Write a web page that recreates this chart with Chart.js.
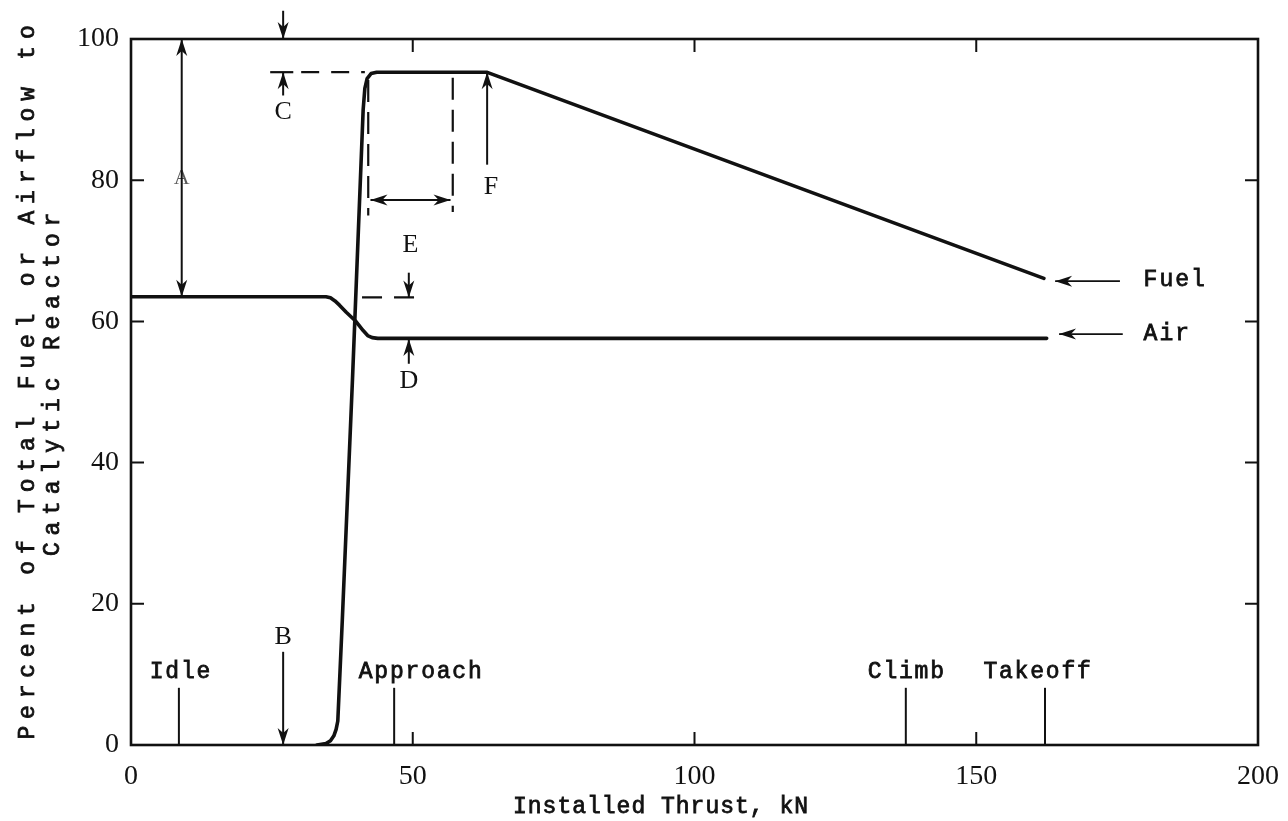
<!DOCTYPE html>
<html>
<head>
<meta charset="utf-8">
<script src="https://cdn.jsdelivr.net/npm/chart.js@4"></script>
<style>
  html, body { margin: 0; padding: 0; background: #fff; }
  #wrap { width: 1288px; height: 821px; }
</style>
</head>
<body>
<div id="wrap"><canvas id="c" width="1288" height="821"></canvas></div>
<script>
// Fuel split to the catalytic reactor vs. installed thrust
const fuelThrust  = [33.0, 34.6, 35.4, 36.0, 36.4, 36.7, 37.5, 39.3, 41.2, 41.5, 41.9, 42.6, 43.6, 63.1, 162.0];
const fuelPercent = [0.0,  0.2,  0.6,  1.3,  2.2,  3.4,  17.7, 51.7, 90.0, 93.0, 94.4, 95.1, 95.3, 95.3, 66.1];

// Air split to the catalytic reactor vs. installed thrust
const airThrust  = [0.0,  34.6, 35.4, 36.2, 37.0, 38.2, 39.8, 41.2, 42.0, 42.8, 43.8, 162.5];
const airPercent = [63.5, 63.5, 63.35, 62.9, 62.3, 61.3, 60.1, 58.7, 58.0, 57.7, 57.6, 57.6];

// Engine operating points
const modeNames  = ['Idle', 'Approach', 'Climb', 'Takeoff'];
const modeThrust = [8.5, 46.7, 137.5, 162.2];

// Axis ranges and tick steps
const xTicks = [0, 50, 100, 150, 200];
const yTicks = [0, 20, 40, 60, 80, 100];

const INK = '#111';
const MONO = '"Liberation Mono", "DejaVu Sans Mono", monospace';
const SERIF = '"Liberation Serif", "DejaVu Serif", serif';

function pts(xs, ys) { return xs.map((x, i) => ({ x, y: ys[i] })); }

function head(ctx, x, y, ang, len, wid) {
  ctx.save();
  ctx.translate(x, y);
  ctx.rotate(ang);
  ctx.beginPath();
  ctx.moveTo(0, 0);
  ctx.lineTo(-len, -wid / 2);
  ctx.lineTo(-len * 0.7, 0);
  ctx.lineTo(-len, wid / 2);
  ctx.closePath();
  ctx.fill();
  ctx.restore();
}

// arrow from (x1,y1) to (x2,y2) in pixels; heads: 'end' | 'both'
function arrow(ctx, x1, y1, x2, y2, heads, lw) {
  ctx.lineWidth = lw || 2;
  ctx.beginPath();
  ctx.moveTo(x1, y1);
  ctx.lineTo(x2, y2);
  ctx.stroke();
  const a = Math.atan2(y2 - y1, x2 - x1);
  head(ctx, x2, y2, a, 17, 11);
  if (heads === 'both') head(ctx, x1, y1, a + Math.PI, 17, 11);
}

// typewriter-like text: fill plus a thin outline to thicken the strokes
function text(ctx, s, x, y, font, align, spacing, weight) {
  ctx.font = font;
  ctx.textAlign = align || 'center';
  ctx.textBaseline = 'middle';
  if ('letterSpacing' in ctx) ctx.letterSpacing = (spacing || 0) + 'px';
  ctx.fillText(s, x, y);
  if (weight) {
    ctx.lineWidth = weight;
    ctx.strokeText(s, x, y);
  }
  if ('letterSpacing' in ctx) ctx.letterSpacing = '0px';
}

const decor = {
  id: 'decor',
  afterDatasetsDraw(chart) {
    const ctx = chart.ctx;
    const xs = chart.scales.x, ys = chart.scales.y;
    const X = v => xs.getPixelForValue(v);
    const Y = v => ys.getPixelForValue(v);
    const a = chart.chartArea;
    ctx.save();
    ctx.strokeStyle = INK;
    ctx.fillStyle = INK;
    ctx.lineCap = 'butt';

    // frame
    ctx.lineWidth = 2.6;
    ctx.strokeRect(a.left, a.top, a.right - a.left, a.bottom - a.top);

    // inward ticks on all four sides
    ctx.lineWidth = 2;
    const tl = 13;
    xTicks.slice(1, -1).forEach(v => {
      ctx.beginPath();
      ctx.moveTo(X(v), a.bottom); ctx.lineTo(X(v), a.bottom - tl);
      ctx.moveTo(X(v), a.top); ctx.lineTo(X(v), a.top + tl);
      ctx.stroke();
    });
    yTicks.slice(1, -1).forEach(v => {
      ctx.beginPath();
      ctx.moveTo(a.left, Y(v)); ctx.lineTo(a.left + tl, Y(v));
      ctx.moveTo(a.right, Y(v)); ctx.lineTo(a.right - tl, Y(v));
      ctx.stroke();
    });

    const word = '23px ' + MONO;
    const ww = 0.8;

    // operating point markers
    const labelShift = [2, 27, 1, -7];
    modeThrust.forEach((t, i) => {
      ctx.lineWidth = 2;
      ctx.beginPath();
      ctx.moveTo(X(t), a.bottom); ctx.lineTo(X(t), Y(8.1));
      ctx.stroke();
      text(ctx, modeNames[i], X(t) + labelShift[i], Y(10.4), word, 'center', 1.8, ww);
    });

    const letter = '26px ' + SERIF;

    // B: light-off thrust
    arrow(ctx, X(27), Y(13.2), X(27), Y(0), 'end', 2);
    text(ctx, 'B', X(27), Y(15.3), letter);

    // arrow onto the 100 % line at the same thrust
    arrow(ctx, X(27), Y(104.0), X(27), Y(100), 'end', 2);

    // A: air split span
    arrow(ctx, X(9.0), Y(63.5), X(9.0), Y(100), 'both', 2);
    ctx.globalAlpha = 0.7;
    text(ctx, 'A', X(9.0), Y(80.3), '22px ' + SERIF);
    ctx.globalAlpha = 1;

    // C: fuel plateau level
    ctx.lineWidth = 2.2;
    ctx.beginPath();
    ctx.moveTo(X(24.7), Y(95.3)); ctx.lineTo(X(28.8), Y(95.3));
    ctx.stroke();
    ctx.setLineDash([18, 12]);
    ctx.beginPath();
    ctx.moveTo(X(30.2), Y(95.3)); ctx.lineTo(X(41.5), Y(95.3));
    ctx.stroke();
    ctx.setLineDash([]);
    arrow(ctx, X(27), Y(92.0), X(27), Y(95.3), 'end', 2);
    text(ctx, 'C', X(27), Y(89.6), letter);

    // E: plateau width
    ctx.lineWidth = 2.2;
    ctx.setLineDash([22, 10]);
    ctx.beginPath();
    ctx.moveTo(X(42.1), Y(94.2)); ctx.lineTo(X(42.1), Y(75.0));
    ctx.moveTo(X(57.1), Y(94.5)); ctx.lineTo(X(57.1), Y(75.5));
    ctx.stroke();
    ctx.setLineDash([]);
    arrow(ctx, X(42.5), Y(77.2), X(56.7), Y(77.2), 'both', 2);
    text(ctx, 'E', X(49.6), Y(70.8), letter);

    // F: end of plateau
    arrow(ctx, X(63.2), Y(82.2), X(63.2), Y(95.3), 'end', 2);
    text(ctx, 'F', X(63.9), Y(79.0), letter);

    // D: air split drop
    ctx.lineWidth = 2.2;
    ctx.setLineDash([20, 12]);
    ctx.beginPath();
    ctx.moveTo(X(41.0), Y(63.4)); ctx.lineTo(X(50.9), Y(63.4));
    ctx.stroke();
    ctx.setLineDash([]);
    arrow(ctx, X(49.3), Y(66.9), X(49.3), Y(63.4), 'end', 2);
    arrow(ctx, X(49.3), Y(54.0), X(49.3), Y(57.5), 'end', 2);
    text(ctx, 'D', X(49.3), Y(51.6), letter);

    // curve labels
    arrow(ctx, X(175.5), Y(65.7), X(164.0), Y(65.7), 'end', 1.8);
    text(ctx, 'Fuel', X(179.7), Y(65.9), word, 'left', 2, ww);
    arrow(ctx, X(176.0), Y(58.2), X(164.7), Y(58.2), 'end', 1.8);
    text(ctx, 'Air', X(179.7), Y(58.2), word, 'left', 2, ww);

    // axis titles
    text(ctx, 'Installed Thrust, kN', 661, 807, word, 'center', 1, ww);
    ctx.save();
    ctx.translate(28, 379);
    ctx.rotate(-Math.PI / 2);
    text(ctx, 'Percent of Total Fuel or Airflow to', 0, 0, word, 'center', 6.8, ww);
    ctx.restore();
    ctx.save();
    ctx.translate(53, 381);
    ctx.rotate(-Math.PI / 2);
    text(ctx, 'Catalytic Reactor', 0, 0, word, 'center', 6.8, ww);
    ctx.restore();

    ctx.restore();
  }
};

const lineStyle = {
  borderColor: INK,
  borderWidth: 3.6,
  pointRadius: 0,
  fill: false,
  tension: 0,
  borderCapStyle: 'round',
  borderJoinStyle: 'round'
};

new Chart(document.getElementById('c'), {
  type: 'line',
  data: {
    datasets: [
      Object.assign({ label: 'Fuel', data: pts(fuelThrust, fuelPercent) }, lineStyle),
      Object.assign({ label: 'Air', data: pts(airThrust, airPercent) }, lineStyle)
    ]
  },
  options: {
    responsive: false,
    animation: false,
    devicePixelRatio: 1,
    layout: { padding: { top: 39, right: 30, bottom: 0, left: 0 } },
    plugins: { legend: { display: false }, tooltip: { enabled: false } },
    scales: {
      x: {
        type: 'linear',
        min: xTicks[0],
        max: xTicks[xTicks.length - 1],
        afterBuildTicks: s => { s.ticks = xTicks.map(v => ({ value: v })); },
        afterFit: s => { s.height = 76; s.paddingLeft = 0; s.paddingRight = 0; },
        grid: { display: false, drawTicks: false },
        border: { display: false },
        ticks: { color: INK, padding: 15, maxRotation: 0, font: { family: SERIF, size: 28 } }
      },
      y: {
        type: 'linear',
        min: yTicks[0],
        max: yTicks[yTicks.length - 1],
        afterBuildTicks: s => { s.ticks = yTicks.map(v => ({ value: v })); },
        afterFit: s => { s.width = 131; s.paddingTop = 0; s.paddingBottom = 0; },
        grid: { display: false, drawTicks: false },
        border: { display: false },
        ticks: { color: INK, padding: 12, font: { family: SERIF, size: 28 } }
      }
    }
  },
  plugins: [decor]
});
</script>
</body>
</html>
